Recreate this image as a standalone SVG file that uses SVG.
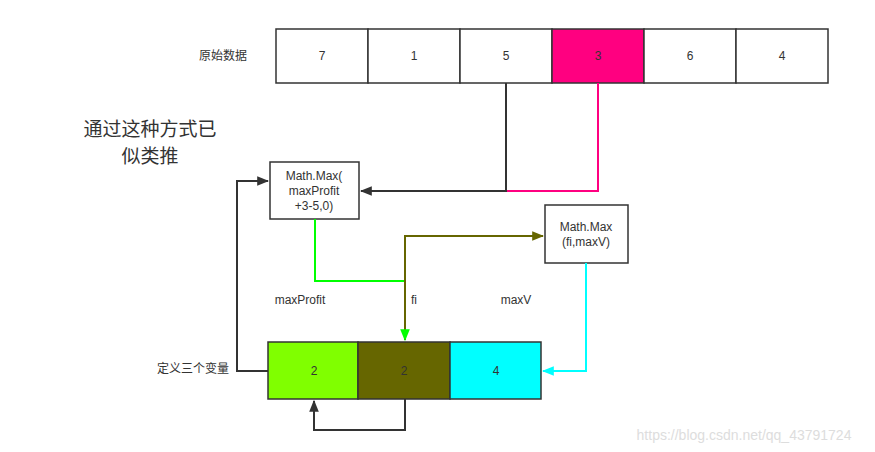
<svg xmlns="http://www.w3.org/2000/svg" width="875" height="452" viewBox="0 0 875 452">
<style>
text{font-family:"Liberation Sans","Noto Sans CJK SC",sans-serif;fill:#333;text-anchor:middle;dominant-baseline:central;font-size:12px}
.c{stroke:#333;stroke-width:1.5}
.l{fill:none;stroke-width:2}
</style>
<defs>
<marker id="a" viewBox="0 0 10 10" refX="9" refY="5" markerWidth="6" markerHeight="6" orient="auto-start-reverse"><path d="M0,1L10,5L0,9z" fill="#333"/></marker>
<marker id="ag" viewBox="0 0 10 10" refX="9" refY="5" markerWidth="6" markerHeight="6" orient="auto"><path d="M0,1L10,5L0,9z" fill="#00ff00"/></marker>
<marker id="ao" viewBox="0 0 10 10" refX="9" refY="5" markerWidth="6" markerHeight="6" orient="auto"><path d="M0,1L10,5L0,9z" fill="#666600"/></marker>
<marker id="ac" viewBox="0 0 10 10" refX="9" refY="5" markerWidth="6" markerHeight="6" orient="auto"><path d="M0,1L10,5L0,9z" fill="#00ffff"/></marker>
</defs>
<text x="223" y="56">原始数据</text>
<g id="top">
<rect class="c" x="276" y="29" width="92" height="54" fill="#fff"/><text x="322" y="56">7</text>
<rect class="c" x="368" y="29" width="92" height="54" fill="#fff"/><text x="414" y="56">1</text>
<rect class="c" x="460" y="29" width="92" height="54" fill="#fff"/><text x="506" y="56">5</text>
<rect class="c" x="552" y="29" width="92" height="54" fill="#ff0080"/><text x="598" y="56">3</text>
<rect class="c" x="644" y="29" width="92" height="54" fill="#fff"/><text x="690" y="56">6</text>
<rect class="c" x="736" y="29" width="92" height="54" fill="#fff"/><text x="782" y="56">4</text>
</g>
<text x="150" y="129" style="font-size:19px">通过这种方式已</text>
<text x="150" y="156" style="font-size:19px">似类推</text>
<g id="m1"><rect class="c" x="270" y="162" width="89" height="57" fill="#fff"/>
<text x="314" y="176">Math.Max(</text><text x="314" y="191">maxProfit</text><text x="314" y="206">+3-5,0)</text></g>
<g id="m2"><rect class="c" x="545" y="205" width="83" height="58" fill="#fff"/>
<text x="586" y="227">Math.Max</text><text x="586" y="242">(fi,maxV)</text></g>
<text x="300" y="300">maxProfit</text><text x="414" y="300">fi</text><text x="516" y="300">maxV</text>
<text x="193" y="369">定义三个变量</text>
<g id="vars">
<rect class="c" x="268" y="342" width="90" height="57" fill="#80ff00"/><text x="314" y="371">2</text>
<rect class="c" x="358" y="342" width="92" height="57" fill="#666600"/><text x="404" y="371">2</text>
<rect class="c" x="450" y="342" width="91" height="57" fill="#00ffff"/><text x="496" y="371">4</text>
</g>
<g id="conn">
<path class="l" stroke="#ff0080" d="M598,83V191H506"/>
<path class="l" stroke="#333" d="M506,83V191H361" marker-end="url(#a)"/>
<path class="l" stroke="#00ff00" d="M315,219V281H405"/>
<path class="l" stroke="#666600" d="M405,281V236H543" marker-end="url(#ao)"/>
<path class="l" stroke="#666600" d="M405,281V340" marker-end="url(#ag)"/>
<path class="l" stroke="#00ffff" d="M586,263V371H543" marker-end="url(#ac)"/>
<path class="l" stroke="#333" d="M268,371H237V181H268" marker-end="url(#a)"/>
<path class="l" stroke="#333" d="M405,399V430H314V401" marker-end="url(#a)"/>
</g>
<text x="744" y="435" style="fill:#ddd;font-size:14px">https://blog.csdn.net/qq_43791724</text>
</svg>
